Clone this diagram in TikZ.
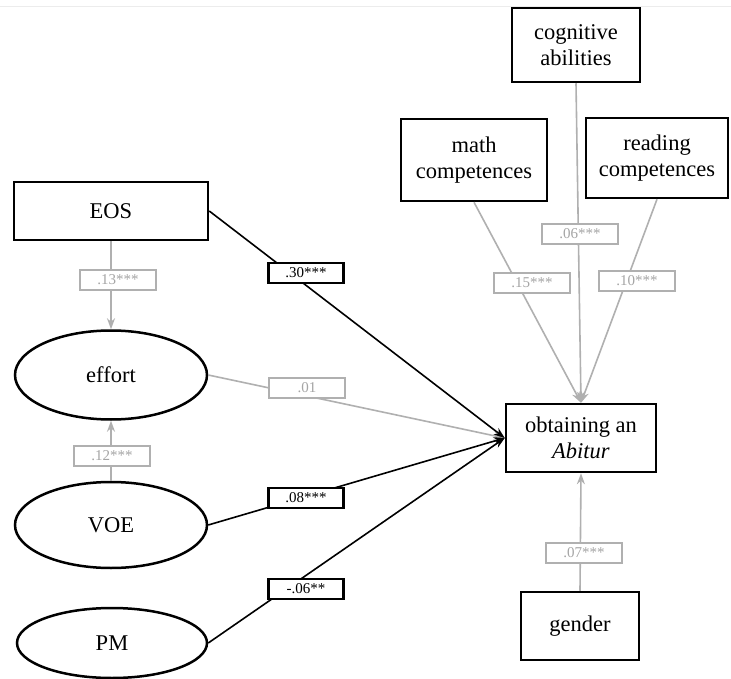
\documentclass[tikz,border=0pt]{standalone}
\usepackage{fontspec}
\setmainfont{Liberation Serif}
\usetikzlibrary{shapes.geometric,arrows.meta}
\definecolor{lgray}{RGB}{176,176,176}
\definecolor{tgray}{RGB}{165,165,165}
\definecolor{topline}{RGB}{236,236,236}
\begin{document}
\begin{tikzpicture}[x=1pt,y=-1pt,
  box/.style={draw,line width=2.5pt,inner sep=0pt,align=center,font=\fontsize{22.5}{26}\selectfont},
  oval/.style={ellipse,draw,line width=2.5pt,inner sep=0pt,font=\fontsize{22.5}{26}\selectfont},
  blab/.style={draw,line width=2.6pt,fill=white,inner sep=0pt,minimum width=75pt,minimum height=20pt,font=\fontsize{15}{15}\selectfont},
  glab/.style={draw=lgray,text=tgray,line width=2.6pt,fill=white,inner sep=0pt,minimum width=76pt,minimum height=20pt,font=\fontsize{15}{15}\selectfont},
  bline/.style={line width=1.6pt,-{Stealth[length=11pt,width=8pt]}},
  gline/.style={lgray,line width=1.6pt,-{Stealth[length=11pt,width=8pt]}}]
\useasboundingbox[fill=white] (0,0) rectangle (731,679);
\draw[topline,line width=1pt] (0,7) -- (731,7);

% nodes
\node[box,minimum width=128pt,minimum height=74pt] (cog) at (576,45) {cognitive\\abilities};
\node[box,minimum width=146pt,minimum height=82pt] (math) at (474,160) {math\\competences};
\node[box,minimum width=142pt,minimum height=80pt] (read) at (657,158) {reading\\competences};
\node[box,minimum width=194pt,minimum height=58pt] (eos) at (111,211) {EOS};
\node[oval,minimum width=192pt,minimum height=89pt] (effort) at (111,375) {effort};
\node[oval,minimum width=192pt,minimum height=86pt] (voe) at (111,525) {VOE};
\node[oval,minimum width=190pt,minimum height=70pt] (pm) at (112,643) {PM};
\node[box,minimum width=150pt,minimum height=68pt] (obt) at (581,438) {obtaining an\\\textit{Abitur}};
\node[box,minimum width=118pt,minimum height=68pt] (gen) at (580,626) {gender};

% connectors
\draw[gline] (effort.east) -- (obt.west);
\draw[gline] (eos.south) -- (effort.north);
\draw[gline] (voe.north) -- (effort.south);
\draw[gline] (math.south) -- (obt.north);
\draw[gline] (cog.south) -- (obt.north);
\draw[gline] (read.south) -- (obt.north);
\draw[gline] (gen.north) -- (obt.south);
\draw[bline] (eos.east) -- (obt.west);
\draw[bline] (voe.east) -- (obt.west);
\draw[bline] (pm.east) -- (obt.west);

% labels
\node[blab] (l30) at (306,273) {.30***};
\node[glab] (l13) at (118,280) {.13***};
\node[glab] (l01) at (307,388) {.01};
\node[glab] (l12) at (112,456) {.12***};
\node[blab] (l08) at (306,498) {.08***};
\node[blab] (l06n) at (306,589) {-.06**};
\node[glab] (l06) at (580,234) {.06***};
\node[glab] (l15) at (532,283) {.15***};
\node[glab] (l10) at (637,281) {.10***};
\node[glab] (l07) at (584,553) {.07***};
\end{tikzpicture}
\end{document}
